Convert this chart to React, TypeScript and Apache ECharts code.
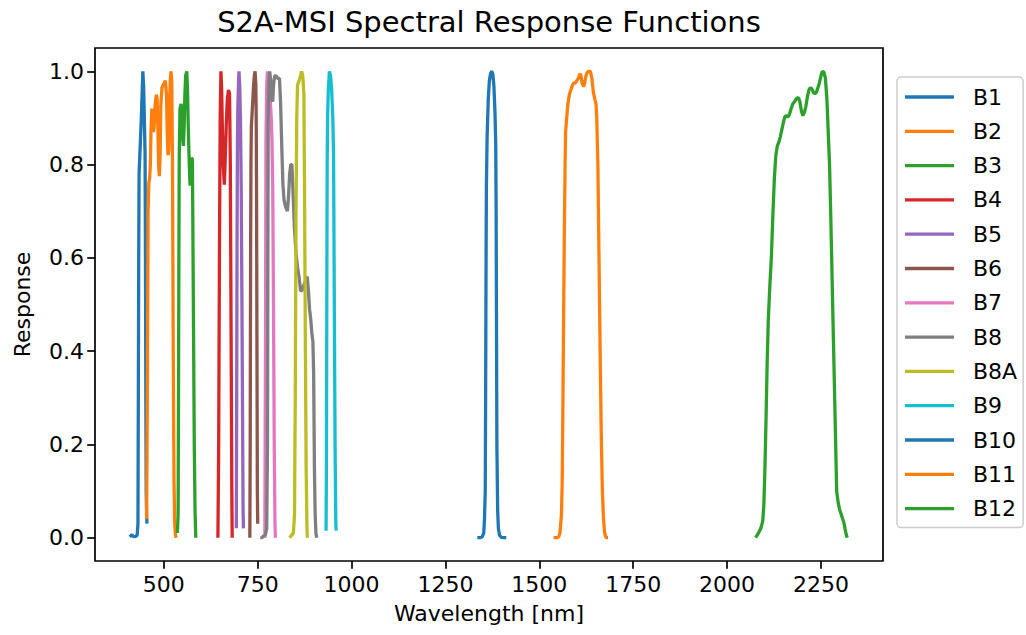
import React, { useEffect, useRef } from 'react';
import * as echarts from 'echarts';

const BAND_NAMES = ['B1', 'B2', 'B3', 'B4', 'B5', 'B6', 'B7', 'B8', 'B8A', 'B9', 'B10', 'B11', 'B12'];
const BAND_COLORS = ['#1f77b4', '#ff7f0e', '#2ca02c', '#d62728', '#9467bd', '#8c564b', '#e377c2', '#7f7f7f', '#bcbd22', '#17becf', '#1f77b4', '#ff7f0e', '#2ca02c'];

const B1 = [[409,0.002],[412,0.004],[415,0.006],[418,0.003],[422,0.002],[426,0.003],[429,0.006],[431,0.03],[432,0.3],[433,0.6],[434,0.78],[436,0.82],[438,0.86],[440,0.9],[442,0.95],[444,1.0],[446,0.97],[448,0.9],[450,0.82],[451,0.6],[452,0.3],[453,0.1],[454,0.05],[455,0.03]];
const B2 = [[454,0.04],[456,0.3],[458,0.7],[460,0.76],[462,0.77],[464,0.8],[466,0.88],[468,0.92],[470,0.9],[472,0.87],[474,0.88],[477,0.93],[480,0.95],[482,0.94],[484,0.88],[486,0.8],[488,0.775],[490,0.82],[492,0.93],[495,0.965],[498,0.97],[501,0.975],[504,0.98],[507,0.95],[509,0.87],[511,0.82],[513,0.83],[515,0.92],[517,0.98],[519,1.0],[521,0.98],[523,0.8],[525,0.4],[527,0.12],[529,0.03],[531,0.005],[533,0.0]];
const B3 = [[536,0.01],[538,0.05],[539,0.3],[540,0.6],[541,0.82],[543,0.92],[546,0.93],[548,0.91],[550,0.86],[552,0.84],[554,0.88],[556,0.95],[558,0.99],[561,1.0],[563,0.96],[565,0.88],[567,0.82],[569,0.77],[570,0.755],[572,0.79],[574,0.815],[576,0.81],[577,0.7],[579,0.45],[581,0.2],[583,0.06],[585,0.0]];
const B4 = [[644,0.0],[646,0.2],[648,0.6],[650,0.9],[652,1.0],[654,0.96],[656,0.87],[658,0.8],[661,0.757],[663,0.8],[666,0.88],[669,0.94],[672,0.96],[674,0.955],[675,0.95],[677,0.8],[679,0.45],[681,0.1],[682,0.0]];
const B5 = [[693,0.02],[694,0.3],[695,0.65],[696,0.85],[697,0.92],[699,0.98],[700,1.0],[702,0.97],[704,0.9],[706,0.75],[708,0.5],[710,0.2],[711,0.06],[712,0.02]];
const B6 = [[729,0.0],[730,0.2],[731,0.6],[732,0.8],[733,0.88],[735,0.91],[737,0.94],[739,0.97],[741,0.99],[743,1.0],[745,0.97],[746,0.9],[747,0.7],[748,0.4],[749,0.1],[750,0.03]];
const B7 = [[769,0.0],[771,0.5],[772,0.85],[774,0.97],[776,1.0],[778,0.98],[780,0.96],[782,0.95],[784,0.93],[786,0.9],[788,0.85],[790,0.75],[792,0.5],[794,0.2],[796,0.03],[797,0.0]];
const B8 = [[757,0.0],[761,0.0],[765,0.003],[770,0.005],[774,0.02],[776,0.2],[777,0.6],[778,0.9],[780,0.98],[782,1.0],[784,0.985],[786,0.97],[788,0.94],[790,0.935],[792,0.97],[795,0.99],[799,0.99],[803,0.985],[808,0.985],[811,0.93],[814,0.84],[817,0.76],[820,0.725],[824,0.71],[829,0.70],[832,0.73],[835,0.78],[838,0.8],[841,0.8],[844,0.74],[848,0.66],[852,0.61],[856,0.58],[860,0.56],[864,0.53],[868,0.53],[872,0.54],[877,0.55],[882,0.56],[885,0.53],[888,0.49],[891,0.47],[894,0.44],[897,0.42],[899,0.35],[901,0.15],[903,0.05],[905,0.01],[907,0.0]];
const B8A = [[835,0.0],[840,0.005],[845,0.01],[848,0.05],[850,0.3],[852,0.7],[854,0.9],[856,0.97],[860,0.98],[864,0.99],[867,1.0],[870,0.99],[873,0.95],[875,0.7],[877,0.4],[879,0.15],[881,0.03],[882,0.0]];
const B9 = [[932,0.015],[933,0.15],[934,0.5],[935,0.8],[936,0.9],[938,0.96],[941,1.0],[944,0.99],[947,0.96],[950,0.9],[952,0.82],[954,0.5],[956,0.2],[958,0.03],[959,0.015]];
const B10 = [[1335,0.0],[1342,0.0],[1348,0.002],[1352,0.01],[1354,0.04],[1356,0.1],[1357,0.3],[1358,0.55],[1359,0.75],[1361,0.86],[1364,0.94],[1367,0.98],[1370,0.995],[1373,1.0],[1376,0.995],[1379,0.97],[1382,0.91],[1384,0.84],[1385,0.7],[1386,0.45],[1387,0.2],[1389,0.06],[1391,0.02],[1394,0.005],[1400,0.0],[1406,0.0],[1412,0.0]];
const B11 = [[1538,0.0],[1546,0.0],[1552,0.002],[1555,0.01],[1557,0.03],[1559,0.05],[1561,0.12],[1563,0.3],[1565,0.5],[1567,0.68],[1569,0.82],[1570,0.87],[1573,0.9],[1576,0.93],[1580,0.95],[1584,0.96],[1588,0.97],[1592,0.975],[1596,0.975],[1600,0.98],[1604,0.985],[1608,0.995],[1611,0.99],[1614,0.975],[1618,0.967],[1621,0.975],[1624,0.99],[1628,0.998],[1632,1.0],[1636,1.0],[1640,0.985],[1644,0.955],[1648,0.94],[1651,0.93],[1653,0.9],[1656,0.8],[1659,0.6],[1662,0.4],[1665,0.22],[1668,0.1],[1671,0.04],[1674,0.01],[1678,0.0],[1683,0.0]];
const B12 = [[2076,0.0],[2080,0.005],[2085,0.012],[2090,0.02],[2095,0.035],[2098,0.07],[2101,0.15],[2104,0.26],[2107,0.38],[2110,0.47],[2114,0.54],[2118,0.6],[2122,0.69],[2126,0.77],[2130,0.82],[2134,0.84],[2138,0.848],[2142,0.86],[2146,0.875],[2150,0.89],[2154,0.903],[2158,0.905],[2162,0.902],[2166,0.907],[2170,0.918],[2175,0.93],[2180,0.935],[2185,0.942],[2190,0.944],[2194,0.935],[2198,0.915],[2202,0.905],[2206,0.912],[2210,0.925],[2214,0.945],[2218,0.96],[2222,0.965],[2226,0.962],[2230,0.955],[2234,0.952],[2238,0.955],[2242,0.965],[2246,0.975],[2250,0.99],[2254,1.0],[2258,0.998],[2262,0.985],[2266,0.94],[2270,0.86],[2273,0.8],[2276,0.7],[2280,0.55],[2284,0.4],[2288,0.25],[2292,0.1],[2296,0.075],[2300,0.06],[2304,0.05],[2308,0.04],[2311,0.033],[2314,0.02],[2318,0.005],[2320,0.0]];

const BAND_DATA = [B1, B2, B3, B4, B5, B6, B7, B8, B8A, B9, B10, B11, B12];

const X_TICKS = [500, 750, 1000, 1250, 1500, 1750, 2000, 2250];
const Y_TICKS = [0, 0.2, 0.4, 0.6, 0.8, 1.0];

const TITLE = 'S2A-MSI Spectral Response Functions';
const X_LABEL = 'Wavelength [nm]';
const Y_LABEL = 'Response';

const FONT = 'DejaVu Sans';

export default function App() {
  const ref = useRef<HTMLDivElement>(null);
  useEffect(() => {
    const chart = echarts.init(ref.current as HTMLDivElement, null, { renderer: 'svg' });
    chart.setOption({
      animation: false,
      backgroundColor: '#ffffff',
      textStyle: { fontFamily: FONT, color: '#000' },
      graphic: [
        {
          type: 'text',
          x: 489,
          y: 22,
          style: {
            text: TITLE,
            textAlign: 'center',
            textVerticalAlign: 'middle',
            fontFamily: FONT,
            fontSize: 29,
            fill: '#000',
          },
        },
      ],
      grid: {
        left: 95,
        right: 143,
        top: 48,
        bottom: 74,
        show: true,
        borderColor: '#000',
        borderWidth: 1.7,
        backgroundColor: 'transparent',
        containLabel: false,
        outerBoundsMode: 'none',
      },
      legend: {
        orient: 'vertical',
        left: 897,
        top: 77,
        padding: [7, 6, 6, 8],
        backgroundColor: 'rgba(255,255,255,0.8)',
        borderColor: '#cccccc',
        borderWidth: 1.5,
        borderRadius: 4,
        icon: 'rect',
        itemWidth: 49,
        itemHeight: 3.3,
        itemGap: 8.3,
        data: BAND_NAMES,
        textStyle: { fontFamily: FONT, fontSize: 22, color: '#000', lineHeight: 26, padding: [0, 0, 0, 14] },
      },
      xAxis: {
        type: 'value',
        min: 316.6,
        max: 2415.4,
        name: X_LABEL,
        nameLocation: 'middle',
        nameGap: 41,
        nameTextStyle: { fontFamily: FONT, fontSize: 22, color: '#000' },
        axisLine: { show: false, onZero: false },
        splitLine: { show: false },
        axisTick: {
          show: true,
          customValues: X_TICKS,
          length: 7.8,
          inside: false,
          lineStyle: { color: '#000', width: 1.7 },
        },
        axisLabel: {
          customValues: X_TICKS,
          margin: 12,
          fontFamily: FONT,
          fontSize: 22,
          color: '#000',
          formatter: (v: number) => String(v),
        },
      },
      yAxis: {
        type: 'value',
        min: -0.05,
        max: 1.05,
        name: Y_LABEL,
        nameLocation: 'middle',
        nameGap: 62,
        nameRotate: 90,
        nameTextStyle: { fontFamily: FONT, fontSize: 22, color: '#000' },
        axisLine: { show: false, onZero: false },
        splitLine: { show: false },
        axisTick: {
          show: true,
          customValues: Y_TICKS,
          length: 7.8,
          inside: false,
          lineStyle: { color: '#000', width: 1.7 },
        },
        axisLabel: {
          customValues: Y_TICKS,
          margin: 11,
          fontFamily: FONT,
          fontSize: 22,
          color: '#000',
          formatter: (v: number) => v.toFixed(1),
        },
      },
      series: BAND_NAMES.map((name, i) => ({
        name,
        type: 'line',
        data: BAND_DATA[i],
        showSymbol: false,
        symbol: 'none',
        smooth: false,
        color: BAND_COLORS[i],
        lineStyle: { color: BAND_COLORS[i], width: 3.3 },
        itemStyle: { color: BAND_COLORS[i] },
        emphasis: { disabled: true },
      })),
    });
    return () => chart.dispose();
  }, []);
  return (
    <div
      ref={ref}
      style={{ position: 'fixed', left: 0, top: 0, width: 1026, height: 635, background: '#fff' }}
    />
  );
}
